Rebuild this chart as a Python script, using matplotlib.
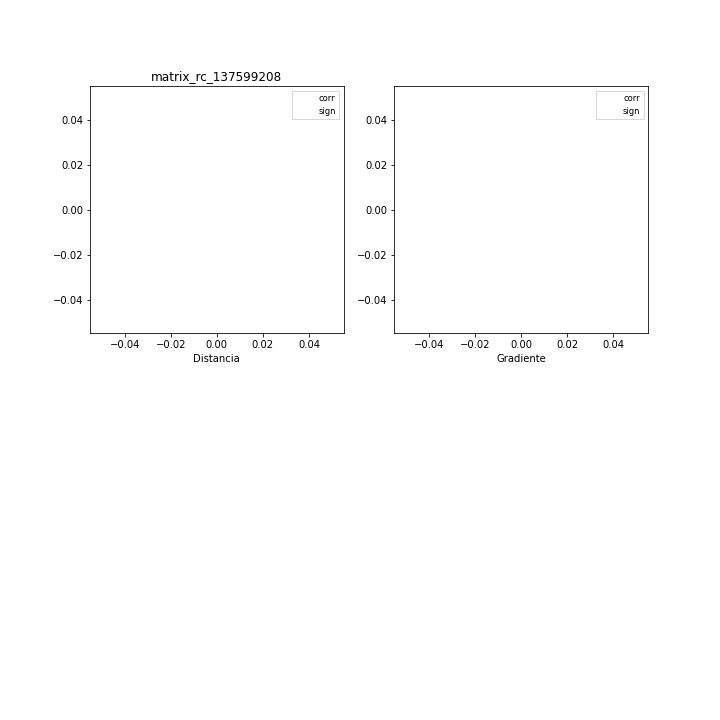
import matplotlib
matplotlib.use("Agg")
import matplotlib.pyplot as plt

# Data (empty in the reference: nothing was plotted)
titulo = "matrix_rc_137599208"
xlabels = ["Distancia", "Gradiente"]
corr_x = []
corr_y = []
sign_x = []
sign_y = []

fig, axes = plt.subplots(2, 2, figsize=(10, 10), dpi=72)
fig.subplots_adjust(hspace=0.245, wspace=0.2)

for ax, lab in zip(axes[0], xlabels):
    ax.plot(corr_x, corr_y, linestyle="none", label="corr")
    ax.plot(sign_x, sign_y, linestyle="none", label="sign")
    ax.set_xlabel(lab)
    ax.legend(loc="upper right", fontsize="small")

axes[0][0].set_title(titulo)

axes[1][0].remove()
axes[1][1].remove()

fig.savefig("out.png", dpi=72)
